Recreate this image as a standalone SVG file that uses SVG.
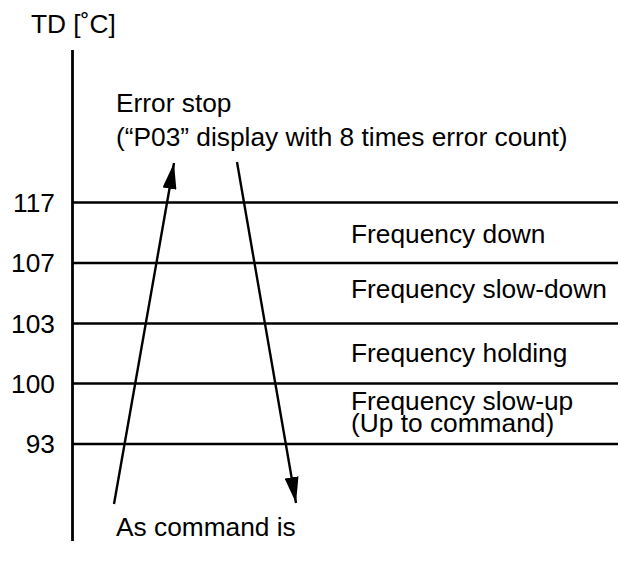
<svg xmlns="http://www.w3.org/2000/svg" width="620" height="561" viewBox="0 0 620 561">
<style>
text{font-family:"Liberation Sans",Arial,sans-serif;font-size:26.3px;fill:#000}
.ax{stroke:#000;stroke-width:2.8;fill:none}
.lv{stroke:#000;stroke-width:2.6;fill:none}
.ar{stroke:#000;stroke-width:2.4;fill:none}
.tick{text-anchor:end}
</style>
<defs>
<marker id="ah" viewBox="0 0 26 14" refX="26" refY="7" markerWidth="26" markerHeight="14" markerUnits="userSpaceOnUse" orient="auto">
<path d="M0,0 L26,7 L0,14 Z" fill="#000"/>
</marker>
</defs>
<g id="axis">
<line class="ax" x1="72.5" y1="50" x2="72.5" y2="541"/>
<text x="31" y="33">TD [˚C]</text>
</g>
<g id="levels">
<line class="lv" x1="72" y1="202.5" x2="618" y2="202.5"/>
<line class="lv" x1="72" y1="263" x2="618" y2="263"/>
<line class="lv" x1="72" y1="323.5" x2="618" y2="323.5"/>
<line class="lv" x1="72" y1="383.5" x2="618" y2="383.5"/>
<line class="lv" x1="72" y1="444" x2="618" y2="444"/>
<text class="tick" x="55" y="212">117</text>
<text class="tick" x="55" y="272">107</text>
<text class="tick" x="55" y="333">103</text>
<text class="tick" x="55" y="393">100</text>
<text class="tick" x="55" y="453">93</text>
</g>
<g id="zone-down"><text x="351" y="243">Frequency down</text></g>
<g id="zone-slowdown"><text x="351" y="298">Frequency slow-down</text></g>
<g id="zone-holding"><text x="351" y="362">Frequency holding</text></g>
<g id="zone-slowup"><text x="351" y="410">Frequency slow-up</text><text x="351" y="432">(Up to command)</text></g>
<g id="error-stop"><text x="116" y="112">Error stop</text><text x="116" y="146">(“P03” display with 8 times error count)</text></g>
<g id="as-command"><text x="116" y="536">As command is</text></g>
<g id="connectors">
<line class="ar" x1="114" y1="504" x2="174" y2="163" marker-end="url(#ah)"/>
<line class="ar" x1="237" y1="162" x2="296" y2="503" marker-end="url(#ah)"/>
</g>
</svg>
